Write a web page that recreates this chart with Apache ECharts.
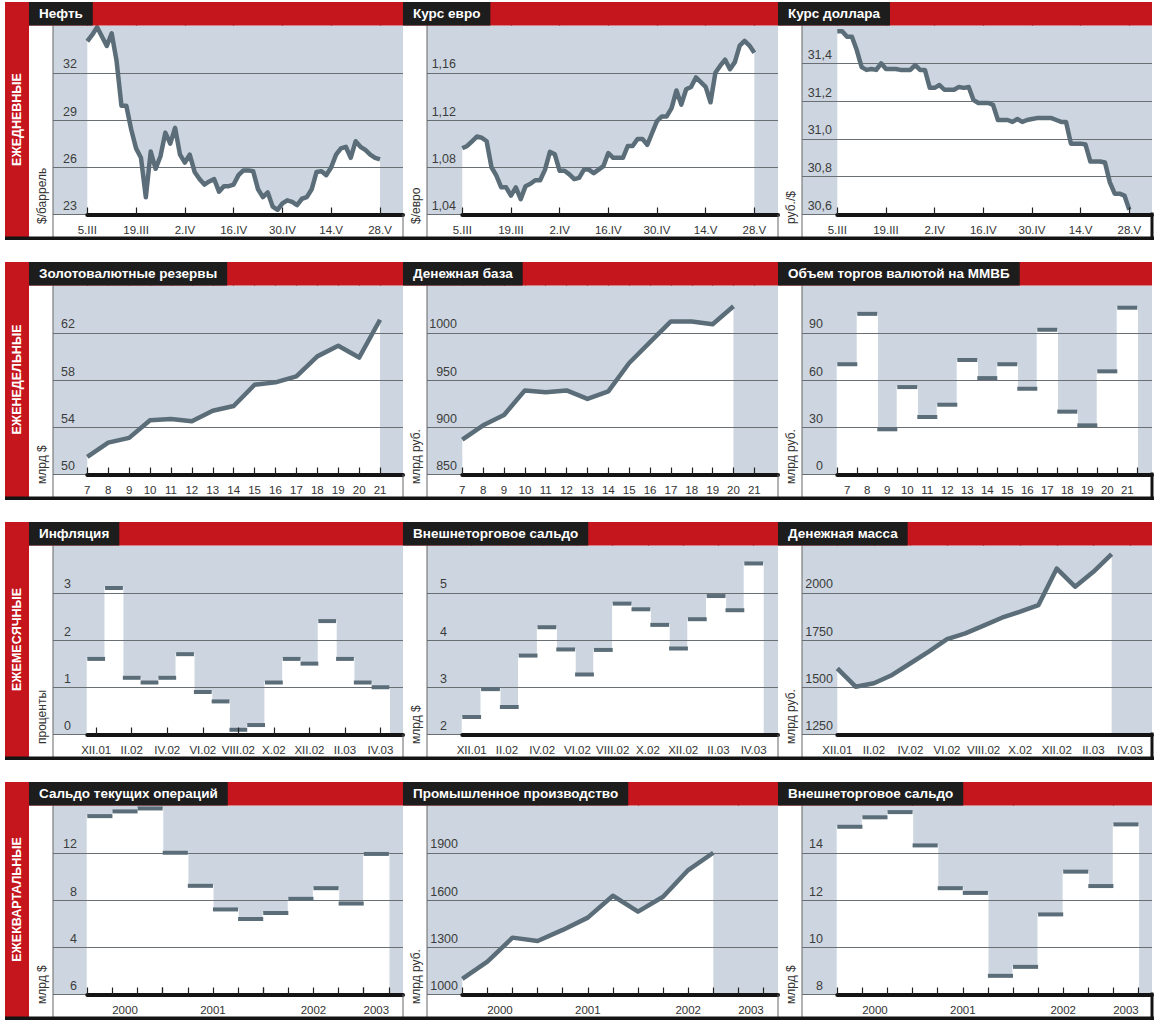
<!DOCTYPE html>
<html>
<head>
<meta charset="utf-8">
<script src="https://cdn.jsdelivr.net/npm/echarts@6/dist/echarts.min.js"></script>
<style>
html, body { margin: 0; padding: 0; background: #fff; }
#chartmain { width: 1157px; height: 1022px; }
</style>
</head>
<body>
<div id="chartmain"></div>
<script>
// ежедневные (рабочие дни 5.III - 28.V)
var dailyTickLabels = ['5.III', '19.III', '2.IV', '16.IV', '30.IV', '14.V', '28.V'];
var oilPrice = [34.0, 34.4, 34.9, 34.3, 33.7, 34.5, 32.75, 29.9, 29.9, 28.4,
  27.2, 26.6, 24.1, 27.0, 25.9, 26.7, 28.2, 27.5, 28.5, 26.8,
  26.3, 26.8, 25.7, 25.25, 24.9, 25.1, 25.25, 24.45, 24.8, 24.8,
  24.9, 25.5, 25.8, 25.8, 25.75, 24.6, 24.1, 24.4, 23.5, 23.3,
  23.7, 23.9, 23.8, 23.6, 24.0, 24.1, 24.6, 25.7, 25.75, 25.5,
  26.0, 26.8, 27.2, 27.3, 26.6, 27.65, 27.3, 27.1, 26.8, 26.6, 26.5];
var euroRate = [1.096, 1.098, 1.102, 1.106, 1.105, 1.102, 1.080, 1.073, 1.063, 1.063,
  1.056, 1.063, 1.053, 1.064, 1.066, 1.069, 1.069, 1.078, 1.093, 1.091,
  1.077, 1.077, 1.074, 1.070, 1.071, 1.078, 1.078, 1.075, 1.078, 1.081,
  1.092, 1.088, 1.088, 1.088, 1.098, 1.098, 1.104, 1.104, 1.099, 1.109,
  1.119, 1.123, 1.123, 1.130, 1.145, 1.133, 1.146, 1.148, 1.156, 1.152,
  1.148, 1.135, 1.160, 1.166, 1.171, 1.163, 1.169, 1.183, 1.187, 1.183, 1.177];
var dollarRate = [31.57, 31.57, 31.54, 31.54, 31.47, 31.38, 31.365, 31.37, 31.365, 31.40,
  31.37, 31.37, 31.37, 31.365, 31.365, 31.365, 31.39, 31.365, 31.365, 31.27,
  31.27, 31.285, 31.26, 31.26, 31.26, 31.275, 31.27, 31.275, 31.205, 31.19,
  31.19, 31.19, 31.18, 31.10, 31.10, 31.10, 31.09, 31.105, 31.09, 31.10,
  31.105, 31.11, 31.11, 31.11, 31.11, 31.10, 31.09, 31.09, 30.975, 30.975,
  30.975, 30.97, 30.88, 30.88, 30.88, 30.875, 30.77, 30.71, 30.71, 30.70, 30.625];

// еженедельные (недели 7 - 21)
var weekLabels = ['7', '8', '9', '10', '11', '12', '13', '14', '15', '16', '17', '18', '19', '20', '21'];
var reserves = [51.5, 52.7, 53.1, 54.6, 54.7, 54.5, 55.4, 55.8, 57.6, 57.8, 58.3, 60.0, 60.9, 59.9, 63.1];
var moneyBase = [887, 902, 913, 939, 937, 939, 930, 938, 968, 990, 1012, 1012, 1009, 1028];
var fxVolume = [70, 102, 28.7, 55.5, 36.5, 44.3, 72.7, 61.2, 70, 54.5, 91.9, 39.9, 31.2, 65.5, 105.9];

// ежемесячные
var monthLabels = ['XII.01', 'II.02', 'IV.02', 'VI.02', 'VIII.02', 'X.02', 'XII.02', 'II.03', 'IV.03'];
var inflation = [1.6, 3.1, 1.2, 1.1, 1.2, 1.7, 0.9, 0.7, 0.1, 0.2, 1.1, 1.6, 1.5, 2.4, 1.6, 1.1, 1.0];
var tradeMonthly = [2.37, 2.96, 2.58, 3.67, 4.27, 3.8, 3.27, 3.79, 4.77, 4.65, 4.32, 3.82, 4.44, 4.93, 4.63, 5.62];
var moneySupply = [1600, 1503, 1521, 1565, 1627, 1688, 1755, 1785, 1826, 1868, 1900, 1935, 2128, 2032, 2111, 2204];

// ежеквартальные
var yearLabels = ['2000', '2001', '2002', '2003'];
var currentAccount = [15.1, 15.5, 15.75, 12.0, 9.2, 7.2, 6.4, 6.9, 8.1, 9.0, 7.7, 11.9];
var currentAccountTicks = ['6', '4', '8', '12'];
var industrialOutput = [1099, 1209, 1361, 1340, 1410, 1488, 1627, 1526, 1621, 1790, 1900];
var tradeQuarterly = [15.1, 15.5, 15.72, 14.31, 12.5, 12.3, 8.79, 9.17, 11.39, 13.2, 12.59, 15.2];

var rowLabels = ['ЕЖЕДНЕВНЫЕ', 'ЕЖЕНЕДЕЛЬНЫЕ', 'ЕЖЕМЕСЯЧНЫЕ', 'ЕЖЕКВАРТАЛЬНЫЕ'];

var FONT = '"Liberation Sans", Arial, sans-serif';
var RED = '#c5161d', PLOT_BG = '#cdd6e0', LINE = '#5a6d78', GRID_LINE = '#6a6f74', INK = '#141414';

var COLS = [
  {x0: 29, gx: 53, right: 403},
  {x0: 403, gx: 427, right: 778},
  {x0: 778, gx: 802, right: 1152}
];

function seq(a, b, s) { var r = []; for (var v = a; v <= b + 1e-9; v += s) r.push(v); return r; }

var dailyPos = seq(0, 60, 10);
var weekPos = seq(0, 14, 1);
var monthPos = seq(0, 16, 2);
var tradeMonthPos = seq(0, 8, 1).map(function (k) { return k * 15 / 8; });
var qBarLab = [1, 4.5, 8.5, 11], qBarUp = seq(-0.5, 11.5, 1), qBarDown = [2.5, 6.5, 10.5];

var panels = [
  {title: 'Нефть', unit: '$/баррель', kind: 'line', values: oilPrice, left: 87.3, step: 4.878,
    yMin: 23, yMax: 35, yStep: 3, dec: 0, labW: 24, labelPos: dailyPos, labels: dailyTickLabels, up: dailyPos, down: dailyPos},
  {title: 'Курс евро', unit: '$/евро', kind: 'line', values: euroRate, left: 462.3, step: 4.867,
    yMin: 1.04, yMax: 1.2, yStep: 0.04, dec: 2, labW: 29, labelPos: dailyPos, labels: dailyTickLabels, up: dailyPos, down: dailyPos},
  {title: 'Курс доллара', unit: 'руб./$', kind: 'line', values: dollarRate, left: 837.3, step: 4.867,
    yMin: 30.6, yMax: 31.6, yStep: 0.2, dec: 1, labW: 30, labelPos: dailyPos, labels: dailyTickLabels, up: dailyPos, down: dailyPos},
  {title: 'Золотовалютные резервы', unit: 'млрд $', kind: 'line', values: reserves, left: 87.3, step: 20.91,
    yMin: 50, yMax: 66, yStep: 4, dec: 0, labW: 22, labelPos: weekPos, labels: weekLabels, up: weekPos, down: weekPos},
  {title: 'Денежная база', unit: 'млрд руб.', kind: 'line', values: moneyBase, left: 462.3, step: 20.86,
    yMin: 850, yMax: 1050, yStep: 50, dec: 0, labW: 30, labelPos: weekPos, labels: weekLabels, up: weekPos, down: weekPos},
  {title: 'Объем торгов валютой на ММВБ', unit: 'млрд руб.', kind: 'bar', values: fxVolume, left: 837.3, step: 20,
    yMin: 0, yMax: 120, yStep: 30, dec: 0, labW: 21, labelPos: weekPos, labels: weekLabels, up: seq(-0.5, 14.5, 1), down: []},
  {title: 'Инфляция', unit: 'проценты', kind: 'bar', values: inflation, left: 87.3, step: 17.77,
    yMin: 0, yMax: 4, yStep: 1, dec: 0, labW: 18, labelPos: monthPos, labels: monthLabels, up: [], down: monthPos},
  {title: 'Внешнеторговое сальдо', unit: 'млрд $', kind: 'bar', values: tradeMonthly, left: 462.3, step: 18.8,
    yMin: 2, yMax: 6, yStep: 1, dec: 0, labW: 20, labelPos: tradeMonthPos, labels: monthLabels, up: [], down: tradeMonthPos},
  {title: 'Денежная масса', unit: 'млрд руб.', kind: 'line', values: moneySupply, left: 837.3, step: 18.29,
    yMin: 1250, yMax: 2250, yStep: 250, dec: 0, labW: 31, labelPos: monthPos, labels: monthLabels, up: [], down: monthPos},
  {title: 'Сальдо текущих операций', unit: 'млрд $', kind: 'bar', values: currentAccount, left: 87.3, step: 25.13,
    yMin: 0, yMax: 16, yStep: 4, dec: 0, yLabels: currentAccountTicks, labW: 24, labelPos: qBarLab, labels: yearLabels, up: qBarUp, down: qBarDown},
  {title: 'Промышленное производство', unit: 'млрд руб.', kind: 'line', values: industrialOutput, left: 462.3, step: 25.1,
    yMin: 1000, yMax: 2200, yStep: 300, dec: 0, labW: 31, labelPos: [1.5, 5, 9, 11.5], labels: yearLabels, up: seq(0, 12, 1), down: [3, 7, 11]},
  {title: 'Внешнеторговое сальдо', unit: 'млрд $', kind: 'bar', values: tradeQuarterly, left: 837.3, step: 25.1,
    yMin: 8, yMax: 16, yStep: 2, dec: 0, labW: 21, labelPos: qBarLab, labels: yearLabels, up: qBarUp, down: qBarDown}
];

function rowTop(r) { return 2 + 260 * r; }

// белый столбик до низа оси; белая обводка закрывает швы между соседями
function barFill(yMin) {
  return function (params, api) {
    var a = api.coord([api.value(0) - 0.5, api.value(1)]);
    var b = api.coord([api.value(0) + 0.5, yMin]);
    return {type: 'rect', shape: {x: a[0], y: a[1], width: b[0] - a[0], height: b[1] - a[1]},
      style: {fill: '#fff', stroke: '#fff', lineWidth: 1.2}};
  };
}
function barCap(params, api) {
  var a = api.coord([api.value(0) - 0.5, api.value(1)]);
  var b = api.coord([api.value(0) + 0.5, api.value(1)]);
  return {type: 'rect', shape: {x: a[0], y: a[1] - 2, width: b[0] - a[0], height: 4}, style: {fill: LINE}};
}

var grids = [], xAxes = [], yAxes = [], series = [], graphics = [];

panels.forEach(function (p, k) {
  var r = Math.floor(k / 3), col = COLS[k % 3];
  var T = rowTop(r), plotTop = T + 23.5, axisY = T + 212.5, h = axisY - plotTop;
  var xMin = p.kind === 'bar' ? -0.5 : 0;
  var xMax = xMin + (col.right - p.left) / p.step;

  // рамка: серый фон, сетка и подписи значений
  grids.push({left: col.gx, top: plotTop, width: col.right - col.gx, height: h, show: true,
    backgroundColor: PLOT_BG, borderWidth: 0, containLabel: false, outerBoundsMode: 'none'});
  // данные
  grids.push({left: p.left, top: plotTop, width: col.right - p.left, height: h, show: false,
    containLabel: false, outerBoundsMode: 'none'});

  xAxes.push({type: 'value', gridIndex: 2 * k, show: false, min: 0, max: 1});
  xAxes.push({
    type: 'value', gridIndex: 2 * k + 1, min: xMin, max: xMax, z: 5,
    axisLine: {show: true, onZero: false, lineStyle: {color: INK, width: 4}},
    splitLine: {show: false},
    axisTick: {show: p.up.length > 0, inside: true, length: 7, customValues: p.up, lineStyle: {color: '#222', width: 1.2}},
    axisLabel: {
      customValues: p.labelPos, margin: 9, color: '#333', fontSize: 11.5, fontFamily: FONT,
      formatter: function (v) {
        var best = 0;
        p.labelPos.forEach(function (q, i) { if (Math.abs(q - v) < Math.abs(p.labelPos[best] - v)) best = i; });
        return p.labels[best];
      }
    }
  });
  xAxes.push({
    type: 'value', gridIndex: 2 * k + 1, min: xMin, max: xMax, z: 5,
    axisLine: {show: false}, splitLine: {show: false}, axisLabel: {show: false},
    axisTick: {show: p.down.length > 0, inside: false, length: 7, customValues: p.down, lineStyle: {color: '#222', width: 1.2}}
  });

  yAxes.push({
    type: 'value', gridIndex: 2 * k, min: p.yMin, max: p.yMax, interval: p.yStep, z: 3,
    axisLine: {show: false}, axisTick: {show: false},
    splitLine: {show: true, showMaxLine: false, lineStyle: {color: GRID_LINE, width: 1}},
    axisLabel: {
      inside: true, align: 'right', verticalAlign: 'bottom', margin: p.labW, padding: [0, 0, 2, 0],
      showMaxLabel: false, color: '#3c3c3c', fontSize: 12.5, fontFamily: FONT,
      formatter: function (v) {
        if (p.yLabels) return p.yLabels[Math.round((v - p.yMin) / p.yStep)];
        return v.toFixed(p.dec).replace('.', ',');
      }
    }
  });
  yAxes.push({type: 'value', gridIndex: 2 * k + 1, show: false, min: p.yMin, max: p.yMax});

  var pts = p.values.map(function (v, i) { return [i, v]; });
  var xi = 3 * k + 1, yi = 2 * k + 1;
  if (p.kind === 'line') {
    series.push({type: 'line', xAxisIndex: xi, yAxisIndex: yi, data: pts, symbol: 'none', z: 2, silent: true,
      lineStyle: {opacity: 0}, areaStyle: {color: '#fff', opacity: 1, origin: 'start'}});
    series.push({type: 'line', xAxisIndex: xi, yAxisIndex: yi, data: pts, symbol: 'none', z: 4, clip: false, silent: true,
      lineStyle: {color: LINE, width: 4.5, join: 'round'}});
  } else {
    series.push({type: 'custom', xAxisIndex: xi, yAxisIndex: yi, data: pts, z: 2, silent: true,
      encode: {x: 0, y: 1}, renderItem: barFill(p.yMin)});
    series.push({type: 'custom', xAxisIndex: xi, yAxisIndex: yi, data: pts, z: 4, silent: true,
      encode: {x: 0, y: 1}, renderItem: barCap});
  }

  // заголовок, единицы, рамки
  graphics.push({type: 'text', x: col.x0, y: T, z: 101, style: {
    text: p.title, fill: '#fff', fontFamily: FONT, fontWeight: 'bold', fontSize: 13.5,
    backgroundColor: '#1d1d1d', padding: [4, 10, 4, 10], lineHeight: 15.5, align: 'left', verticalAlign: 'top'}});
  graphics.push({type: 'text', x: col.x0 + 12.5, y: T + 222, rotation: Math.PI / 2, z: 101, style: {
    text: p.unit, fill: '#333', fontFamily: FONT, fontSize: 12, align: 'left', verticalAlign: 'middle'}});
  graphics.push({type: 'rect', z: 99, shape: {x: col.gx - 0.5, y: plotTop, width: 1, height: T + 235 - plotTop}, style: {fill: '#666'}});
  if (k % 3 > 0) {
    graphics.push({type: 'rect', z: 99, shape: {x: col.x0 - 0.5, y: axisY, width: 1, height: T + 235 - axisY}, style: {fill: '#666'}});
  }
});

rowLabels.forEach(function (txt, r) {
  var T = rowTop(r);
  graphics.push({type: 'rect', z: 100, shape: {x: 29, y: T, width: 1123, height: 23.5}, style: {fill: RED}});
  graphics.push({type: 'rect', z: 100, shape: {x: 5, y: T, width: 24, height: 235}, style: {fill: RED}});
  graphics.push({type: 'text', x: 17, y: T + 117.5, rotation: Math.PI / 2, z: 101, style: {
    text: txt, fill: '#fff', fontFamily: FONT, fontWeight: 'bold', fontSize: 12.5, align: 'center', verticalAlign: 'middle'}});
  graphics.push({type: 'rect', z: 100, shape: {x: 5, y: T + 234.5, width: 1149, height: 3.5}, style: {fill: INK}});
  graphics.push({type: 'rect', z: 100, shape: {x: 1150.5, y: T + 210.5, width: 3, height: 27}, style: {fill: INK}});
});

var myChart = echarts.init(document.getElementById('chartmain'), null, {renderer: 'svg'});
var option = {
  animation: false,
  backgroundColor: '#fff',
  grid: grids,
  xAxis: xAxes,
  yAxis: yAxes,
  series: series,
  graphic: {elements: graphics}
};
myChart.setOption(option);
</script>
</body>
</html>
